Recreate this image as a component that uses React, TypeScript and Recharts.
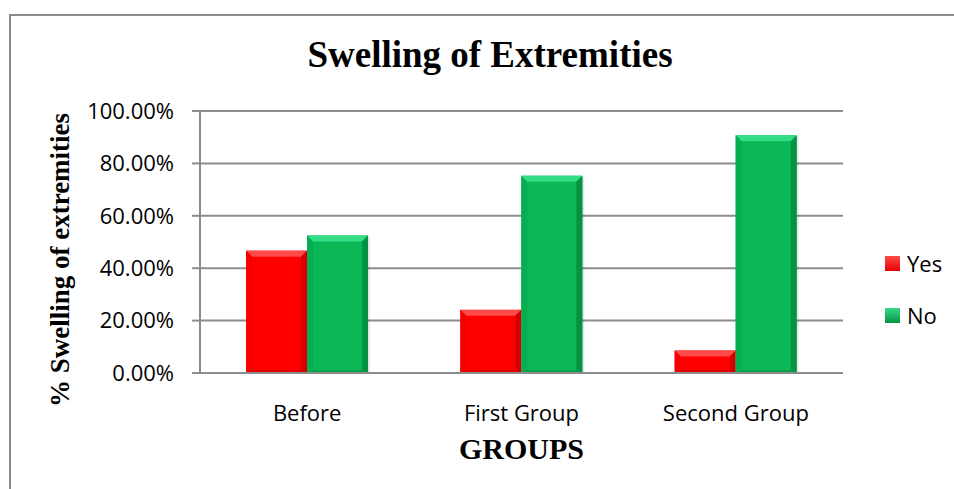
import { BarChart, Bar, XAxis, YAxis, CartesianGrid, Legend, Label } from "recharts";

const categories = ["Before", "First Group", "Second Group"];
const yesValues = [0.467, 0.241, 0.086];
const noValues = [0.525, 0.753, 0.907];
const yTicks = [0, 0.2, 0.4, 0.6, 0.8, 1];
const seriesOrder = ["Yes", "No"];

const data = categories.map((c, i) => ({ group: c, Yes: yesValues[i], No: noValues[i] }));

const RED = { main: "#ff0000", top: "#ff4a4a", left: "#f50000", right: "#d60000", bottom: "#e00000" };
const GREEN = { main: "#0ab856", top: "#34dc85", left: "#07ae51", right: "#049344", bottom: "#05a04a" };

type Pal = typeof RED;

function BevelBar(props: any) {
  const { x, y, width: w, height: h, pal } = props as { x: number; y: number; width: number; height: number; pal: Pal };
  if (!h || h <= 0) return null;
  const b = Math.min(6, h / 2, w / 2);
  const bb = Math.min(3, h / 2);
  return (
    <g>
      <rect x={x + 2} y={y + 1} width={w} height={h} fill="#000" opacity={0.1} />
      <rect x={x} y={y} width={w} height={h} fill={pal.main} />
      <polygon points={`${x},${y} ${x + w},${y} ${x + w - b},${y + b} ${x + b},${y + b}`} fill={pal.top} />
      <polygon points={`${x},${y} ${x + b},${y + b} ${x + b},${y + h - bb} ${x},${y + h}`} fill={pal.left} />
      <polygon points={`${x + w},${y} ${x + w},${y + h} ${x + w - b},${y + h - bb} ${x + w - b},${y + b}`} fill={pal.right} />
      <polygon points={`${x},${y + h} ${x + b},${y + h - bb} ${x + w - b},${y + h - bb} ${x + w},${y + h}`} fill={pal.bottom} />
    </g>
  );
}

const tickFont = { fontFamily: "'Open Sans', sans-serif", fontSize: 22, fill: "#000" };
const serif = "'Liberation Serif', 'Times New Roman', serif";

function renderLegend(props: any) {
  const items = [...(props.payload || [])].sort(
    (a: any, b: any) => seriesOrder.indexOf(a.value) - seriesOrder.indexOf(b.value)
  );
  return (
    <div style={{ fontFamily: "'Open Sans', sans-serif", fontSize: 22, color: "#000" }}>
      {items.map((it: any) => (
        <div key={it.value} style={{ display: "flex", alignItems: "center", height: 52 }}>
          <span style={{ display: "inline-block", width: 15, height: 15, marginRight: 7,
            background: it.value === "Yes" ? "linear-gradient(#ff4a4a, #e80000)" : "linear-gradient(#34dc85, #049344)" }} />
          <span>{it.value}</span>
        </div>
      ))}
    </div>
  );
}

export default function App() {
  return (
    <div style={{ position: "absolute", left: 0, top: 0, width: 954, height: 489, background: "#fff", overflow: "hidden" }}>
      <div style={{ position: "absolute", left: 9, top: 14, width: 960, height: 490,
        borderTop: "2px solid #8c8c8c", borderLeft: "2px solid #8c8c8c" }} />
      <div style={{ position: "absolute", left: 0, width: 980, top: 30, textAlign: "center",
        fontFamily: serif, fontWeight: "bold", fontSize: 37, lineHeight: "50px", color: "#000" }}>
        Swelling of Extremities
      </div>
      <BarChart width={954} height={489} data={data} barGap={0} barSize={61}
        margin={{ top: 111, right: 111, bottom: 16, left: 0 }}
        style={{ position: "absolute", left: 0, top: 0 }}>
        <CartesianGrid vertical={false} stroke="#8c8c8c" strokeWidth={2} />
        <XAxis dataKey="group" height={100} tickLine={false} tickMargin={26} tick={tickFont}
          axisLine={{ stroke: "#8c8c8c", strokeWidth: 2 }} interval={0}>
          <Label value="GROUPS" position="insideBottom" offset={14}
            style={{ fontFamily: serif, fontWeight: "bold", fontSize: 30, fill: "#000" }} />
        </XAxis>
        <YAxis width={200} domain={[0, 1]} ticks={yTicks} tick={tickFont} tickSize={8} tickMargin={18}
          tickFormatter={(v: number) => (v * 100).toFixed(2) + "%"}
          axisLine={{ stroke: "#8c8c8c", strokeWidth: 2 }} tickLine={{ stroke: "#8c8c8c", strokeWidth: 2 }}>
          <Label content={() => (
            <text transform="translate(69,260) rotate(-90)" textAnchor="middle"
              style={{ fontFamily: serif, fontWeight: "bold", fontSize: 27, fill: "#000" }}>
              % Swelling of extremities
            </text>
          )} />
        </YAxis>
        <Legend layout="horizontal" verticalAlign="middle" content={renderLegend}
          wrapperStyle={{ position: "absolute", left: 885, top: 237, width: 70 }} />
        <Bar dataKey="Yes" fill="#ff0000" isAnimationActive={false}
          shape={(p: any) => <BevelBar {...p} pal={RED} />} />
        <Bar dataKey="No" fill="#0ab856" isAnimationActive={false}
          shape={(p: any) => <BevelBar {...p} pal={GREEN} />} />
      </BarChart>
    </div>
  );
}
